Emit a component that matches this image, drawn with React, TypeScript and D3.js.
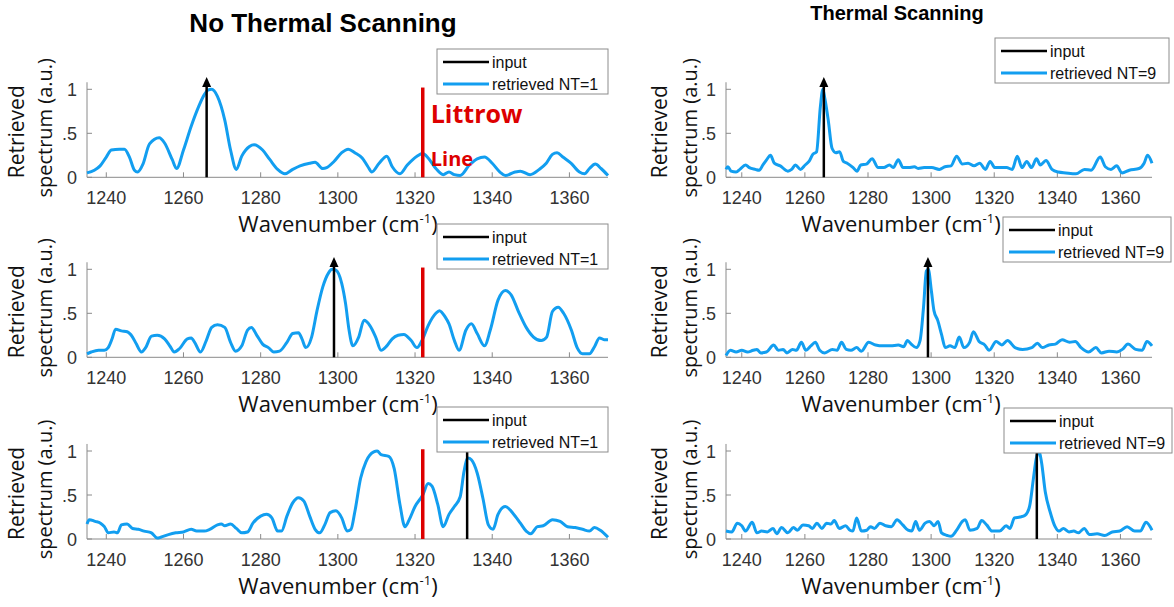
import React from 'react'
import * as d3 from 'd3'

// x ticks / y ticks shared by all six panels
const xTicks = [1240, 1260, 1280, 1300, 1320, 1340, 1360]
const yTicks = [0, 0.5, 1]
const yTickLabels = ['0', '.5', '1']
const inputPeaks = [1266, 1299, 1333.5]
const littrowLine = 1322
const legendNT1 = ['input', 'retrieved NT=1']
const legendNT9 = ['input', 'retrieved NT=9']
const columnTitles = ['No Thermal Scanning', 'Thermal Scanning']

// retrieved spectra, no thermal scanning (NT=1) — [wavenumber, value]
const nt1Peak1266: [number, number][] = [
  [1235, 0.05], [1236.9, 0.08], [1238.4, 0.13], [1240, 0.23], [1241.3, 0.31], [1243.4, 0.32],
  [1244.7, 0.32], [1246, 0.23], [1247.3, 0.08], [1248.1, 0.06], [1249.5, 0.15], [1251.2, 0.38],
  [1253.7, 0.45], [1255.1, 0.39], [1257.1, 0.2], [1258.2, 0.1], [1260, 0.31], [1262, 0.58],
  [1263.9, 0.8], [1265.4, 0.94], [1266.3, 0.99], [1267.3, 1.0], [1268.8, 0.92], [1270.7, 0.65],
  [1272.2, 0.31], [1273.7, 0.09], [1275.1, 0.24], [1277.1, 0.35], [1278.3, 0.37], [1280.5, 0.31],
  [1282.4, 0.2], [1284.4, 0.09], [1286.3, 0.04], [1288.3, 0.09], [1290.2, 0.13], [1292.7, 0.16],
  [1294.1, 0.17], [1296.1, 0.1], [1297.1, 0.11], [1299, 0.18], [1301, 0.28], [1302.7, 0.32],
  [1304.4, 0.28], [1306.3, 0.22], [1307.8, 0.12], [1308.8, 0.06], [1310.7, 0.16], [1312.7, 0.24],
  [1314.1, 0.12], [1316.1, 0.04], [1318, 0.14], [1320.5, 0.24], [1322, 0.27], [1323.4, 0.22],
  [1325.4, 0.1], [1327.3, 0.03], [1328.8, 0.06], [1330.2, 0.03], [1331.7, 0.02], [1334.1, 0.14],
  [1336.1, 0.21], [1338, 0.23], [1340, 0.16], [1342, 0.06], [1343.4, 0.02], [1345.9, 0.06],
  [1347.3, 0.07], [1349.8, 0.03], [1352.2, 0.09], [1354, 0.16], [1355.6, 0.26], [1356.8, 0.28],
  [1358.3, 0.23], [1360.4, 0.16], [1362.6, 0.06], [1363.9, 0.04], [1365.2, 0.1], [1366.7, 0.15],
  [1368.2, 0.1], [1370, 0.02],
]

const nt1Peak1299: [number, number][] = [
  [1235, 0.04], [1236.1, 0.06], [1238, 0.08], [1239.5, 0.08], [1240.5, 0.11], [1241.5, 0.21],
  [1242.4, 0.32], [1243.9, 0.3], [1245.4, 0.29], [1246.8, 0.23], [1247.8, 0.15], [1249.1, 0.06],
  [1250.2, 0.11], [1251.7, 0.24], [1253.2, 0.25], [1255.1, 0.21], [1256.6, 0.12], [1257.6, 0.06],
  [1259, 0.1], [1261, 0.21], [1262, 0.22], [1262.9, 0.17], [1264.4, 0.06], [1265.9, 0.19],
  [1267.3, 0.34], [1268.8, 0.37], [1270.7, 0.34], [1272.2, 0.17], [1273.5, 0.07], [1275.1, 0.13],
  [1276.6, 0.31], [1277.6, 0.34], [1279, 0.25], [1280.5, 0.15], [1282, 0.11], [1283.4, 0.06],
  [1284.9, 0.07], [1286.8, 0.17], [1288.3, 0.27], [1289.8, 0.28], [1290.7, 0.21], [1291.7, 0.11],
  [1293.2, 0.23], [1294.6, 0.53], [1296.1, 0.8], [1297.6, 0.96], [1298.5, 1.0], [1299.5, 0.99],
  [1301, 0.84], [1302, 0.61], [1302.9, 0.31], [1303.9, 0.13], [1305.4, 0.23], [1306.8, 0.42],
  [1308.3, 0.36], [1309.8, 0.23], [1311.2, 0.08], [1312.7, 0.13], [1314.1, 0.21], [1315.6, 0.25],
  [1317.1, 0.26], [1319, 0.19], [1320.5, 0.11], [1322, 0.21], [1323.4, 0.36], [1325.4, 0.5],
  [1326.3, 0.53], [1327.8, 0.46], [1328.8, 0.38], [1330.2, 0.19], [1331.4, 0.08], [1333.2, 0.31],
  [1334.6, 0.38], [1336.1, 0.27], [1338, 0.13], [1339.5, 0.31], [1341.5, 0.65], [1343.4, 0.76],
  [1344.9, 0.71], [1346.8, 0.52], [1348.8, 0.34], [1350.7, 0.23], [1352.7, 0.19], [1354.1, 0.23],
  [1355.6, 0.52], [1357.1, 0.57], [1358.5, 0.5], [1360.5, 0.31], [1362, 0.11], [1363.4, 0.04],
  [1365.2, 0.04], [1366.5, 0.12], [1367.8, 0.22], [1369, 0.2], [1370, 0.2],
]

const nt1Peak1333: [number, number][] = [
  [1235, 0.17], [1235.6, 0.22], [1237.1, 0.2], [1238.5, 0.18], [1239.5, 0.14], [1240.5, 0.07],
  [1242, 0.08], [1242.9, 0.07], [1243.9, 0.16], [1245.4, 0.17], [1246.8, 0.12], [1248.3, 0.11],
  [1249.8, 0.09], [1251.7, 0.07], [1253.2, 0.01], [1254.1, 0.02], [1256.1, 0.05], [1258, 0.07],
  [1260, 0.08], [1262, 0.11], [1263.4, 0.09], [1265.4, 0.09], [1266.8, 0.11], [1268.8, 0.16],
  [1269.8, 0.17], [1270.7, 0.15], [1272.2, 0.17], [1273.7, 0.12], [1275.1, 0.07], [1276.6, 0.08],
  [1278, 0.18], [1280, 0.26], [1281.5, 0.28], [1282.9, 0.24], [1284.4, 0.09], [1285.4, 0.09],
  [1286.8, 0.26], [1288.3, 0.41], [1289.8, 0.47], [1291.2, 0.43], [1292.7, 0.26], [1294.1, 0.11],
  [1295.3, 0.07], [1296.6, 0.16], [1298, 0.3], [1299.5, 0.32], [1301, 0.24], [1302.4, 0.09],
  [1303.4, 0.11], [1304.4, 0.31], [1305.9, 0.69], [1307.3, 0.88], [1309.3, 0.99], [1310.2, 1.0],
  [1311.2, 0.96], [1313.2, 0.94], [1314.6, 0.8], [1316.1, 0.39], [1317.4, 0.14], [1318.5, 0.22],
  [1320, 0.37], [1322, 0.5], [1323.4, 0.63], [1324.4, 0.6], [1325.9, 0.39], [1327.3, 0.14],
  [1328.8, 0.28], [1330.2, 0.37], [1331.7, 0.48], [1332.7, 0.77], [1333.7, 0.92], [1334.6, 0.9],
  [1336.1, 0.75], [1337.6, 0.46], [1339, 0.16], [1340.2, 0.11], [1341.5, 0.28], [1343.4, 0.37],
  [1345.4, 0.29], [1347.3, 0.18], [1348.8, 0.09], [1350, 0.06], [1351.7, 0.14], [1353.2, 0.15],
  [1355.6, 0.22], [1357.6, 0.2], [1359.5, 0.14], [1361.5, 0.13], [1363.4, 0.11], [1365.2, 0.09],
  [1366.5, 0.13], [1368, 0.1], [1370, 0.02],
]

// retrieved spectra, thermal scanning (NT=9)
const nt9Peak1266: [number, number][] = [
  [1235, 0.09], [1235.6, 0.12], [1236.6, 0.07], [1238.2, 0.06], [1239.4, 0.09], [1241.2, 0.14],
  [1242.4, 0.11], [1244.3, 0.09], [1245.5, 0.08], [1246.7, 0.14], [1247.9, 0.2], [1249.1, 0.25],
  [1250.3, 0.16], [1252.2, 0.13], [1254.6, 0.07], [1255.8, 0.09], [1257, 0.14], [1258.6, 0.09],
  [1260.1, 0.14], [1261.3, 0.18], [1262.5, 0.26], [1263.7, 0.29], [1264.9, 0.8], [1265.7, 1.0],
  [1266.4, 0.88], [1267.4, 0.65], [1268.6, 0.33], [1269.8, 0.28], [1271, 0.29], [1272.2, 0.18],
  [1273.4, 0.16], [1275.3, 0.11], [1276.5, 0.07], [1277.7, 0.14], [1279.5, 0.15], [1281.3, 0.21],
  [1283.2, 0.11], [1285, 0.11], [1286.8, 0.14], [1288, 0.11], [1289.6, 0.2], [1291.1, 0.11],
  [1292.9, 0.11], [1294.7, 0.12], [1295.9, 0.1], [1297.8, 0.11], [1300.2, 0.11], [1302.6, 0.09],
  [1304.4, 0.12], [1306.3, 0.13], [1308.1, 0.24], [1309.9, 0.15], [1311.7, 0.16], [1313.6, 0.13],
  [1315.4, 0.16], [1317.2, 0.09], [1318.7, 0.18], [1320.2, 0.11], [1322.1, 0.11], [1323.9, 0.11],
  [1325.7, 0.09], [1327.3, 0.24], [1328.8, 0.11], [1330.3, 0.18], [1331.8, 0.11], [1333.4, 0.21],
  [1334.6, 0.14], [1336.4, 0.19], [1338.3, 0.09], [1340.3, 0.06], [1342.7, 0.05], [1345.9, 0.04],
  [1348.6, 0.09], [1350.7, 0.08], [1353.6, 0.23], [1355.2, 0.12], [1357, 0.09], [1358.8, 0.13],
  [1360.5, 0.05], [1362.8, 0.08], [1365.9, 0.1], [1367.5, 0.16], [1368.6, 0.25], [1370, 0.16],
]

const nt9Peak1299: [number, number][] = [
  [1235, 0.02], [1236.4, 0.08], [1238.2, 0.06], [1240, 0.08], [1241.8, 0.06], [1243.6, 0.08],
  [1244.8, 0.09], [1246, 0.05], [1247.8, 0.06], [1250.1, 0.14], [1251.6, 0.08], [1253.1, 0.09],
  [1254.3, 0.05], [1256.1, 0.09], [1257.3, 0.08], [1258.9, 0.17], [1260.3, 0.08], [1261.9, 0.13],
  [1263.3, 0.17], [1264.7, 0.08], [1266.3, 0.05], [1268.7, 0.09], [1270.2, 0.08], [1271.6, 0.17],
  [1273.1, 0.09], [1274.6, 0.08], [1276.4, 0.11], [1277.9, 0.07], [1280.2, 0.17], [1282.4, 0.14],
  [1284.8, 0.13], [1287.2, 0.13], [1289.6, 0.14], [1291.3, 0.12], [1292.5, 0.19], [1293.7, 0.15],
  [1295.3, 0.11], [1296.5, 0.19], [1297.6, 0.57], [1298.5, 0.98], [1299.1, 1.0], [1300.1, 0.75],
  [1300.9, 0.53], [1302.1, 0.42], [1303.3, 0.26], [1304.5, 0.11], [1306, 0.13], [1307.5, 0.11],
  [1308.9, 0.23], [1310.4, 0.11], [1312.2, 0.17], [1313.4, 0.29], [1315.2, 0.18], [1317, 0.14],
  [1318.4, 0.08], [1320.6, 0.18], [1322.4, 0.14], [1324.2, 0.19], [1326.6, 0.11], [1329, 0.09],
  [1331.9, 0.11], [1333.7, 0.16], [1335.2, 0.11], [1337.3, 0.14], [1339.4, 0.15], [1341.5, 0.2],
  [1343.9, 0.17], [1345.7, 0.18], [1347.5, 0.11], [1349.9, 0.06], [1352.2, 0.11], [1354, 0.05],
  [1356.4, 0.07], [1358.8, 0.06], [1360.6, 0.09], [1362.4, 0.15], [1364.8, 0.09], [1366.9, 0.08],
  [1368.4, 0.18], [1370, 0.13],
]

const nt9Peak1333: [number, number][] = [
  [1235, 0.09], [1236.8, 0.08], [1238.6, 0.18], [1240, 0.15], [1241.2, 0.09], [1243.3, 0.19],
  [1244.8, 0.07], [1246.3, 0.09], [1248.1, 0.08], [1249.9, 0.12], [1251.1, 0.06], [1252.6, 0.13],
  [1254.6, 0.07], [1256.4, 0.13], [1257.6, 0.1], [1259.4, 0.16], [1261.2, 0.15], [1262.4, 0.12],
  [1263.8, 0.18], [1265.4, 0.12], [1266.9, 0.18], [1268.3, 0.17], [1269.3, 0.21], [1270.9, 0.12],
  [1272.9, 0.15], [1274.3, 0.1], [1275.2, 0.09], [1276.4, 0.24], [1277.9, 0.09], [1279.6, 0.1],
  [1280.8, 0.14], [1282, 0.12], [1283.8, 0.18], [1285.6, 0.15], [1287.4, 0.14], [1289.2, 0.22],
  [1291, 0.16], [1292.7, 0.1], [1293.9, 0.09], [1295.1, 0.2], [1296.3, 0.1], [1298.1, 0.18],
  [1299.5, 0.2], [1301, 0.15], [1302.2, 0.2], [1303.3, 0.07], [1305.1, 0.04], [1306.3, 0.03],
  [1308.1, 0.1], [1309.9, 0.2], [1310.8, 0.22], [1312.3, 0.1], [1314.6, 0.12], [1316, 0.21],
  [1317.6, 0.16], [1319.3, 0.09], [1321.7, 0.09], [1323.8, 0.15], [1325, 0.12], [1326.4, 0.24],
  [1328.2, 0.25], [1329.8, 0.27], [1331.2, 0.37], [1332.4, 0.68], [1333.3, 0.91], [1334.2, 1.0],
  [1335, 0.87], [1336.2, 0.53], [1337.7, 0.31], [1339.3, 0.14], [1340.5, 0.09], [1341.9, 0.12],
  [1343.7, 0.08], [1345.2, 0.09], [1346.7, 0.07], [1348.5, 0.12], [1350.2, 0.05], [1352.6, 0.06],
  [1355, 0.04], [1357.4, 0.08], [1359.8, 0.09], [1362.1, 0.14], [1364.5, 0.09], [1366.3, 0.09],
  [1368.1, 0.19], [1370, 0.1],
]

const W = 1174
const H = 607
const BLUE = '#129ef0'
const RED = '#dd0000'
const AXIS = '#8a8a8a'
const TICKTEXT = '#333'
const LABEL_FONT = '"Open Sans", "Noto Sans", sans-serif'
const TICK_FONT = '"Liberation Sans", Arial, sans-serif'

// column / row geometry (pixels on the page)
const cols = [
  { x0: 87, x1: 608, yl1: 17, yl2: 45, xTitle: 338 },
  { x0: 726, x1: 1152, yl1: 660, yl2: 690, xTitle: 901 },
]
const rows = [{ y0: 177.3 }, { y0: 357.3 }, { y0: 539 }]
const UNIT = 88
const YMAX = 1.08

const legendBoxes = [
  [{ x: 437, y: 49, w: 171 }, { x: 437, y: 224, w: 171 }, { x: 437, y: 407, w: 171 }],
  [{ x: 995, y: 38, w: 174 }, { x: 1003, y: 217, w: 168 }, { x: 1004, y: 408, w: 168 }],
]

const panelData = [
  [nt1Peak1266, nt1Peak1299, nt1Peak1333],
  [nt9Peak1266, nt9Peak1299, nt9Peak1333],
]

const Panel = ({ col, row }: { col: number; row: number }) => {
  const c = cols[col]
  const r = rows[row]
  const x = d3.scaleLinear().domain([1235, 1370]).range([c.x0, c.x1])
  const y = d3.scaleLinear().domain([0, YMAX]).range([r.y0, r.y0 - YMAX * UNIT])
  const line = d3
    .line<[number, number]>()
    .x((d) => x(d[0]))
    .y((d) => y(d[1]))
    .curve(d3.curveMonotoneX)
  const data = panelData[col][row]
  const peak = inputPeaks[row]
  const tipY = y(1.14)
  const px = x(peak)
  const lg = legendBoxes[col][row]
  const labels = col === 0 ? legendNT1 : legendNT9
  const midY = (y(0) + y(YMAX)) / 2 + 2

  return (
    <g>
      {/* axes: left and bottom only, inward ticks */}
      <line x1={c.x0} x2={c.x1} y1={y(0)} y2={y(0)} stroke={AXIS} strokeWidth={1} />
      <line x1={c.x0} x2={c.x0} y1={y(0)} y2={y(YMAX)} stroke={AXIS} strokeWidth={1} />
      {xTicks.map((t) => (
        <g key={t}>
          <line x1={x(t)} x2={x(t)} y1={y(0)} y2={y(0) - 5} stroke={AXIS} />
          <text
            x={x(t)}
            y={y(0) + 27}
            textAnchor="middle"
            fontFamily={TICK_FONT}
            fontSize={18}
            fill={TICKTEXT}
          >
            {t}
          </text>
        </g>
      ))}
      {yTicks.map((t, i) => (
        <g key={t}>
          <line x1={c.x0} x2={c.x0 + 5} y1={y(t)} y2={y(t)} stroke={AXIS} />
          <text
            x={c.x0 - 10}
            y={y(t) + 6.5}
            textAnchor="end"
            fontFamily={TICK_FONT}
            fontSize={18}
            fill={TICKTEXT}
          >
            {yTickLabels[i]}
          </text>
        </g>
      ))}

      {/* axis titles */}
      <text
        transform={`translate(${c.yl1 + 7},${midY}) rotate(-90)`}
        textAnchor="middle"
        fontFamily={LABEL_FONT}
        fontSize={21}
        fill="#111"
      >
        Retrieved
      </text>
      <text
        transform={`translate(${c.yl2 + 7},${midY - 4}) rotate(-90)`}
        textAnchor="middle"
        fontFamily={LABEL_FONT}
        fontSize={20}
        fill="#111"
      >
        spectrum (a.u.)
      </text>
      <text x={c.xTitle} y={y(0) + 55} textAnchor="middle" fontFamily={LABEL_FONT} fontSize={22} fill="#111">
        Wavenumber (cm
        <tspan fontSize={13} dy={-9}>
          -1
        </tspan>
        <tspan dy={9}>)</tspan>
      </text>

      {/* retrieved spectrum */}
      <path d={line(data) ?? ''} fill="none" stroke={BLUE} strokeWidth={3} strokeLinejoin="round" />

      {/* input line with arrow */}
      <line x1={px} x2={px} y1={y(0)} y2={tipY + 6} stroke="#000" strokeWidth={2.5} />
      <path d={`M${px},${tipY} L${px - 4.5},${tipY + 10} L${px + 4.5},${tipY + 10} Z`} fill="#000" />

      {/* Littrow line */}
      {col === 0 && (
        <line x1={x(littrowLine)} x2={x(littrowLine)} y1={y(0)} y2={y(1.02)} stroke={RED} strokeWidth={3.5} />
      )}
      {col === 0 && row === 0 && (
        <g fill={RED} fontFamily={LABEL_FONT} fontWeight="bold">
          <text x={x(littrowLine) + 8} y={123} fontSize={25}>
            Littrow
          </text>
          <text x={x(littrowLine) + 8} y={166} fontSize={20}>
            Line
          </text>
        </g>
      )}

      {/* legend */}
      <g>
        <rect x={lg.x} y={lg.y} width={lg.w} height={45} fill="#fff" stroke="#8c8c8c" strokeWidth={1} />
        {labels.map((l, i) => {
          const ly = lg.y + 13 + i * 22
          return (
            <g key={l}>
              <line
                x1={lg.x + 6}
                x2={lg.x + 52}
                y1={ly}
                y2={ly}
                stroke={i === 0 ? '#000' : BLUE}
                strokeWidth={i === 0 ? 2.5 : 3}
              />
              <text x={lg.x + 55} y={ly + 5.5} fontFamily={TICK_FONT} fontSize={16} fill="#111">
                {l}
              </text>
            </g>
          )
        })}
      </g>
    </g>
  )
}

export default function App() {
  return (
    <svg
      width={W}
      height={H}
      viewBox={`0 0 ${W} ${H}`}
      style={{ position: 'absolute', left: 0, top: 0, background: '#fff' }}
    >
      <rect width={W} height={H} fill="#fff" />
      <text x={323} y={32} textAnchor="middle" fontFamily={TICK_FONT} fontWeight="bold" fontSize={26} fill="#000">
        {columnTitles[0]}
      </text>
      <text x={897} y={20} textAnchor="middle" fontFamily={TICK_FONT} fontWeight="bold" fontSize={20} fill="#000">
        {columnTitles[1]}
      </text>
      {[0, 1].map((col) => [0, 1, 2].map((row) => <Panel key={`${col}-${row}`} col={col} row={row} />))}
    </svg>
  )
}
